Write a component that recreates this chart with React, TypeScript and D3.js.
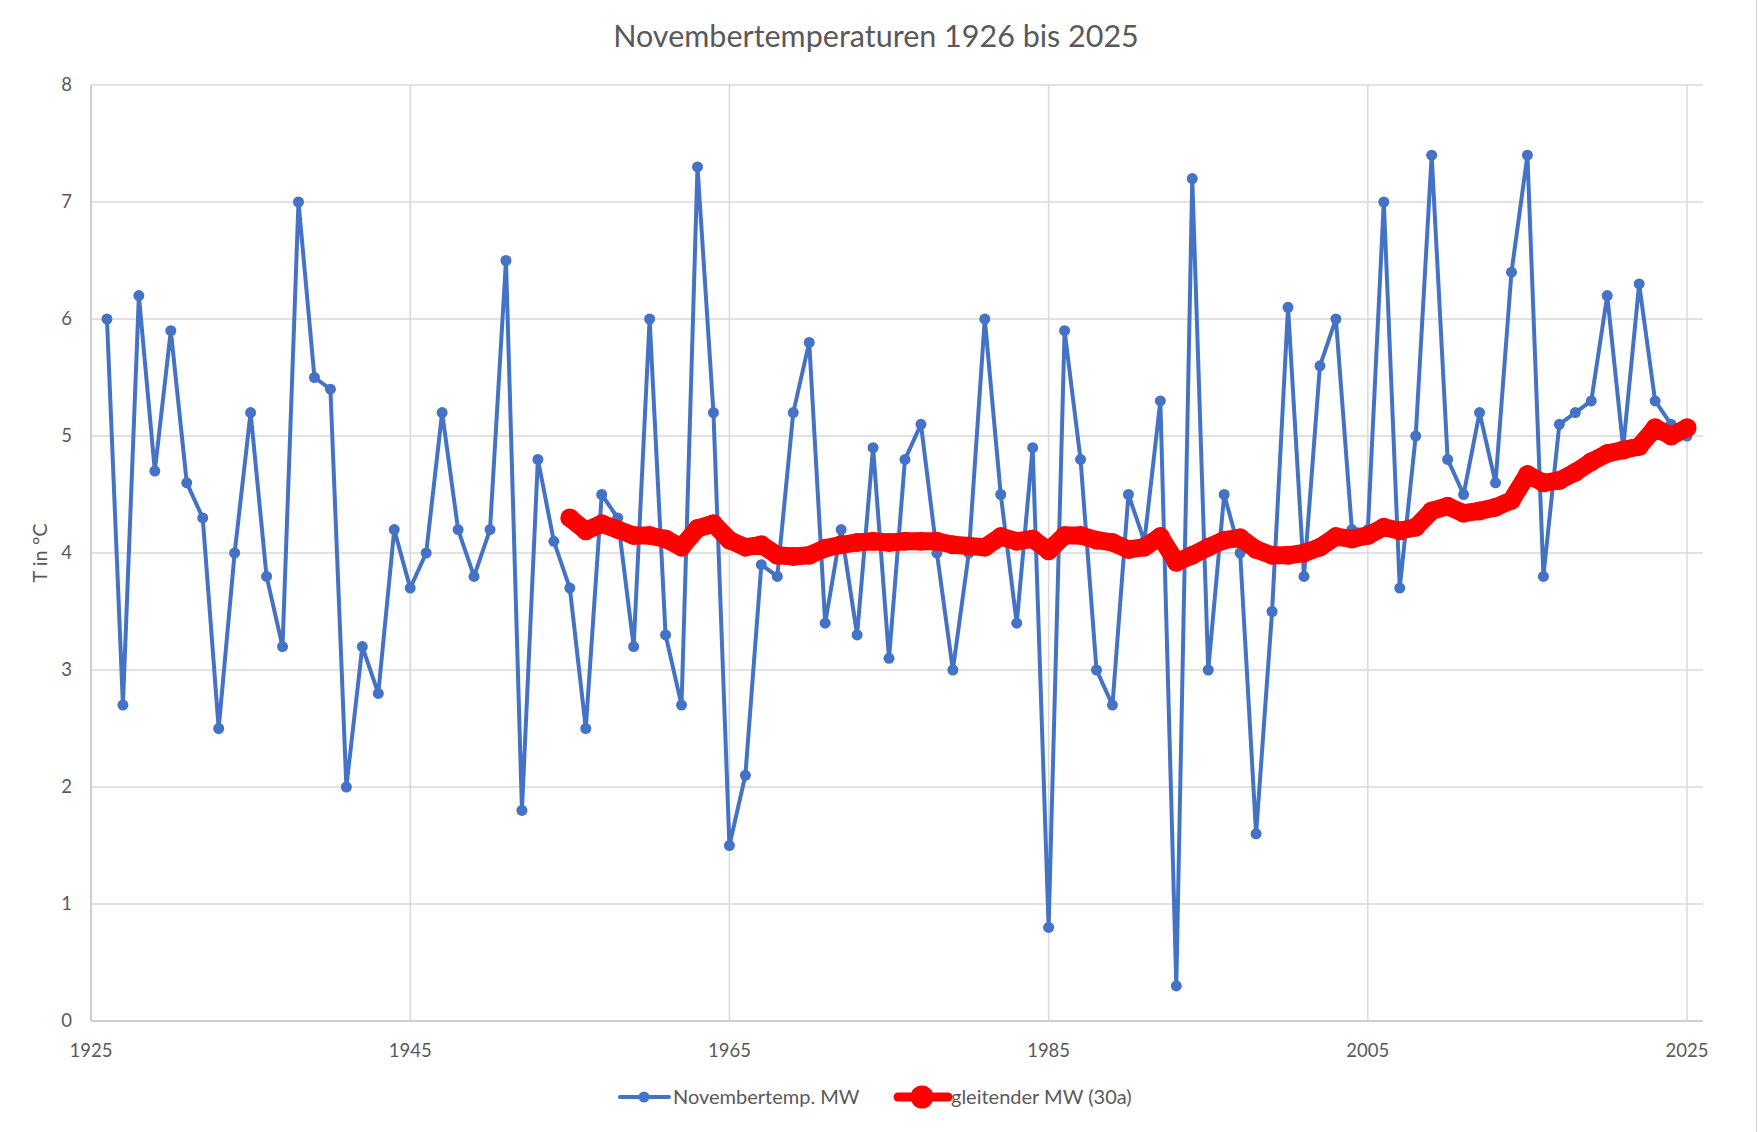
import React, { useEffect } from "react";
import * as d3 from "d3";

const TITLE = "Novembertemperaturen 1926 bis 2025";
const Y_TITLE = "T in °C";
const SERIES_NAMES = ["Novembertemp. MW", "gleitender MW (30a)"];

const YEAR_START = 1926;
const novemberTemp: number[] = [
  6.0, 2.7, 6.2, 4.7, 5.9, 4.6, 4.3, 2.5, 4.0, 5.2,
  3.8, 3.2, 7.0, 5.5, 5.4, 2.0, 3.2, 2.8, 4.2, 3.7,
  4.0, 5.2, 4.2, 3.8, 4.2, 6.5, 1.8, 4.8, 4.1, 3.7,
  2.5, 4.5, 4.3, 3.2, 6.0, 3.3, 2.7, 7.3, 5.2, 1.5,
  2.1, 3.9, 3.8, 5.2, 5.8, 3.4, 4.2, 3.3, 4.9, 3.1,
  4.8, 5.1, 4.0, 3.0, 4.0, 6.0, 4.5, 3.4, 4.9, 0.8,
  5.9, 4.8, 3.0, 2.7, 4.5, 4.1, 5.3, 0.3, 7.2, 3.0,
  4.5, 4.0, 1.6, 3.5, 6.1, 3.8, 5.6, 6.0, 4.2, 4.2,
  7.0, 3.7, 5.0, 7.4, 4.8, 4.5, 5.2, 4.6, 6.4, 7.4,
  3.8, 5.1, 5.2, 5.3, 6.2, 4.9, 6.3, 5.3, 5.1, 5.0,
];

const MA_START = 1955;
const movingAvg: number[] = [
  4.30, 4.19, 4.25, 4.20, 4.15, 4.15, 4.12, 4.05, 4.21, 4.25,
  4.11, 4.05, 4.07, 3.98, 3.97, 3.98, 4.04, 4.07, 4.09, 4.10,
  4.09, 4.10, 4.10, 4.10, 4.07, 4.06, 4.05, 4.14, 4.10, 4.12,
  4.02, 4.15, 4.15, 4.11, 4.09, 4.03, 4.05, 4.14, 3.92, 3.98,
  4.05, 4.11, 4.13, 4.03, 3.98, 3.98, 4.00, 4.05, 4.14, 4.12,
  4.15, 4.22, 4.19, 4.22, 4.36, 4.40, 4.34, 4.36, 4.39, 4.45,
  4.67, 4.60, 4.62, 4.69, 4.78, 4.85, 4.88, 4.91, 5.07, 5.00,
  5.07,
];

const X_TICKS = [1925, 1945, 1965, 1985, 2005, 2025];
const Y_TICKS = [0, 1, 2, 3, 4, 5, 6, 7, 8];

const W = 1758;
const H = 1132;
const FONT = "Lato, 'Open Sans', sans-serif";
const BLUE = "#4472C4";
const RED = "#FF0000";
const TEXT = "#595959";

export default function App() {
  useEffect(() => {
    document.body.style.margin = "0";
  }, []);

  const x = d3.scaleLinear().domain([1925, 2026]).range([91, 1703]);
  const y = d3.scaleLinear().domain([0, 8]).range([1021, 85]);

  const blue = novemberTemp.map((v, i) => ({ yr: YEAR_START + i, v }));
  const red = movingAvg.map((v, i) => ({ yr: MA_START + i, v }));

  const line = d3
    .line<{ yr: number; v: number }>()
    .x((d) => x(d.yr))
    .y((d) => y(d.v));

  const [x0, x1] = x.range();
  const [y0, y1] = y.range();
  const LEG_Y = 1097;

  return (
    <svg
      width={W}
      height={H}
      style={{ position: "absolute", left: 0, top: 0, background: "#fff" }}
      fontFamily={FONT}
    >
      <rect x={0} y={0} width={W} height={H} fill="#fff" />
      <line x1={W - 1.5} x2={W - 1.5} y1={0} y2={H} stroke="#D9D9D9" strokeWidth={1.5} />
      <text x={876} y={47} textAnchor="middle" fontSize={30.5} fill={TEXT}>
        {TITLE}
      </text>

      {Y_TICKS.map((t) => (
        <line
          key={"hg" + t}
          x1={x0}
          x2={x1}
          y1={y(t)}
          y2={y(t)}
          stroke={t === 0 ? "#BFBFBF" : "#D9D9D9"}
          strokeWidth={1.5}
        />
      ))}
      {X_TICKS.map((t) => (
        <line
          key={"vg" + t}
          x1={x(t)}
          x2={x(t)}
          y1={y1}
          y2={y0}
          stroke={t === 1925 ? "#BFBFBF" : "#D9D9D9"}
          strokeWidth={1.5}
        />
      ))}

      {Y_TICKS.map((t) => (
        <text
          key={"yl" + t}
          x={72}
          y={y(t)}
          dy="0.35em"
          textAnchor="end"
          fontSize={18.5}
          fill={TEXT}
        >
          {t}
        </text>
      ))}
      {X_TICKS.map((t) => (
        <text
          key={"xl" + t}
          x={x(t)}
          y={1051}
          dy="0.35em"
          textAnchor="middle"
          fontSize={18.5}
          fill={TEXT}
        >
          {t}
        </text>
      ))}
      <text
        transform={`translate(40, ${(y0 + y1) / 2}) rotate(-90)`}
        textAnchor="middle"
        dy="0.35em"
        fontSize={20}
        fill={TEXT}
      >
        {Y_TITLE}
      </text>

      <path d={line(blue) || ""} fill="none" stroke={BLUE} strokeWidth={4} strokeLinejoin="round" />
      {blue.map((d) => (
        <circle key={"b" + d.yr} cx={x(d.yr)} cy={y(d.v)} r={5.5} fill={BLUE} />
      ))}

      <path
        d={line(red) || ""}
        fill="none"
        stroke={RED}
        strokeWidth={18}
        strokeLinejoin="round"
        strokeLinecap="round"
      />
      {red.map((d) => (
        <circle key={"r" + d.yr} cx={x(d.yr)} cy={y(d.v)} r={9.5} fill={RED} />
      ))}

      <g>
        <line x1={620} x2={669} y1={LEG_Y} y2={LEG_Y} stroke={BLUE} strokeWidth={4} strokeLinecap="round" />
        <circle cx={644} cy={LEG_Y} r={5.5} fill={BLUE} />
        <text x={673} y={LEG_Y} dy="0.35em" fontSize={20} fill={TEXT}>
          {SERIES_NAMES[0]}
        </text>
        <line x1={898} x2={948} y1={LEG_Y} y2={LEG_Y} stroke={RED} strokeWidth={9} strokeLinecap="round" />
        <circle cx={922} cy={LEG_Y} r={11.5} fill={RED} />
        <text x={951} y={LEG_Y} dy="0.35em" fontSize={20} fill={TEXT}>
          {SERIES_NAMES[1]}
        </text>
      </g>
    </svg>
  );
}
